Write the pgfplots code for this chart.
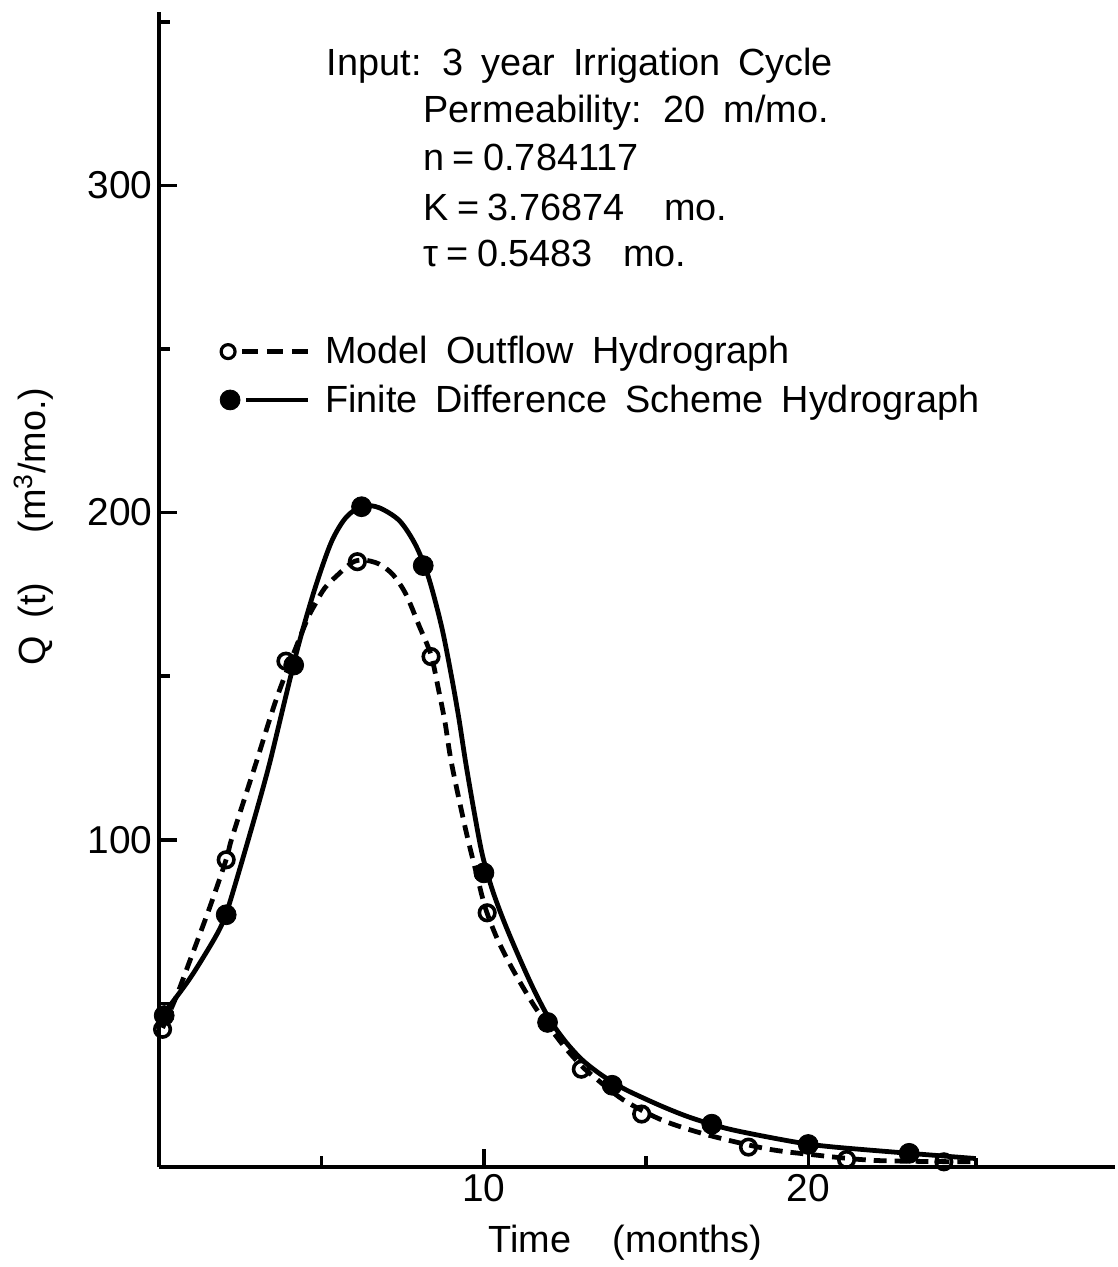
\documentclass[border=0pt]{standalone}
\usepackage{pgfplots}
\pgfplotsset{compat=1.18}
\usepackage{fontspec}
\setmainfont{Liberation Sans}[WordSpace=1.7]

% curve traces
\pgfplotstableread{
x y
0.10 46.5
0.40 50.3
1.00 58.5
1.75 70.7
2.06 77.5
2.46 90.5
3.00 109.0
3.40 123.5
3.90 144.0
4.30 160.0
4.80 177.0
5.30 191.0
5.75 198.5
6.25 202.0
6.77 201.5
7.40 197.5
7.90 190.0
8.30 180.0
8.70 165.0
9.00 150.0
9.23 137.0
9.44 123.5
9.70 108.5
9.95 95.5
10.25 85.0
10.60 75.5
11.00 66.0
11.50 55.0
12.00 45.5
12.50 38.5
13.00 33.0
13.50 29.0
14.00 25.7
14.50 23.0
15.50 18.5
16.40 15.0
17.60 11.5
19.50 7.8
20.60 6.3
22.60 4.6
25.15 2.6
}\fdcurve

\pgfplotstableread{
x y
0.10 42.5
0.52 52.0
0.92 62.5
1.54 79.0
2.06 94.0
2.25 101.0
2.98 123.5
3.64 144.0
4.50 166.0
4.80 172.0
5.10 177.0
5.50 181.0
5.95 184.8
6.30 185.5
6.77 184.3
7.20 181.0
7.60 175.0
8.00 165.5
8.37 156.5
8.60 146.0
8.80 136.0
9.00 123.5
9.44 103.0
9.80 88.5
10.05 79.0
10.40 70.0
10.80 62.0
11.20 55.0
11.60 48.5
12.00 43.0
12.50 36.5
13.00 31.0
13.40 27.5
14.30 20.5
15.50 14.3
16.90 9.8
18.70 5.6
20.10 3.8
22.10 2.0
25.15 1.6
}\modelcurve

\pgfplotstableread{
x y
0.10 42.1
2.06 93.9
3.90 154.6
6.10 185.0
8.37 156.0
10.10 77.7
13.00 29.9
14.86 16.2
18.15 6.1
21.17 2.3
24.17 1.6
}\modelpts

\pgfplotstableread{
x y
0.15 46.3
2.06 77.1
4.14 153.4
6.23 201.8
8.13 183.8
10.00 89.9
11.96 44.2
13.95 25.0
17.02 13.1
19.99 6.9
23.10 4.2
}\fdpts

\begin{document}
\begin{tikzpicture}
\begin{axis}[
  scale only axis, width=480pt, height=580pt,
  xmin=0, xmax=29.45, ymin=0, ymax=353,
  axis lines=left, axis line style={-, line width=2pt},
  tick align=inside,
  xtick={10,20}, minor xtick={5,15},
  ytick={100,200,300}, minor ytick={50,150,250,350},
  major tick length=9pt, minor tick length=5.5pt,
  every major tick/.append style={black, line width=1.8pt},
  every minor tick/.append style={black, line width=1.8pt},
  tick label style={font=\fontsize{19.5}{22}\selectfont},
  /pgf/number format/assume math mode=true,
  clip=false,
  xlabel={Time\hspace{1.1em}(months)},
  xlabel style={at={(axis cs:14.36,0)}, anchor=center, yshift=-38pt, font=\fontsize{19}{22}\selectfont},
  ylabel={Q (t)\hspace{1.3em}(m\textsuperscript{3}/mo.)},
  ylabel style={at={([xshift=-63pt]axis cs:0,195.7)}, anchor=center, font=\fontsize{19}{22}\selectfont},
  legend style={at={([xshift=-5pt,yshift=8.5pt]axis cs:2.15,249.4)}, anchor=north west,
    draw=none, fill=none, inner sep=0pt, row sep=7pt,
    font=\fontsize{19}{22}\selectfont, nodes={inner ysep=1pt}},
  legend cell align=left,
]
\addlegendimage{legend image code/.code={
  \draw[line width=2.2pt, dash pattern=on 8pt off 4.5pt] (7pt,0) -- (40pt,0);
  \draw[line width=1.6pt, fill=white] (0pt,0) circle (3.5pt);
  \path (46.5pt,0);}}
\addlegendentry{Model Outflow Hydrograph}
\addlegendimage{legend image code/.code={
  \draw[line width=2.2pt] (9pt,0) -- (40pt,0);
  \fill (1pt,0) circle (5pt);
  \path (46.5pt,0);}}
\addlegendentry{Finite Difference Scheme Hydrograph}

\addplot[forget plot, black, line width=2.4pt, smooth] table {\fdcurve};
\addplot[forget plot, black, line width=2.4pt, smooth, dash pattern=on 6.5pt off 4pt] table {\modelcurve};
\addplot[forget plot, black, line width=2pt] coordinates {(25.15,0.5) (25.15,2.8)};
\addplot[forget plot, only marks, mark=*, mark size=5pt, mark options={black, fill=black, line width=0.4pt}] table {\fdpts};
\addplot[forget plot, only marks, mark=o, mark size=3.9pt, mark options={black, fill=white, line width=1.8pt, solid}] table {\modelpts};

\node[anchor=mid west, inner sep=0pt, font=\fontsize{19}{22}\selectfont] at (axis cs:5.15,335.3) {Input: 3 year Irrigation Cycle};
\node[anchor=mid west, inner sep=0pt, font=\fontsize{19}{22}\selectfont] at (axis cs:8.13,320.7) {Permeability: 20 m/mo.};
\node[anchor=mid west, inner sep=0pt, font=\fontsize{19}{22}\selectfont] at (axis cs:8.13,306.3) {n\hspace{0.22em}=\hspace{0.22em}0.784117};
\node[anchor=mid west, inner sep=0pt, font=\fontsize{19}{22}\selectfont] at (axis cs:8.13,290.8) {K\hspace{0.22em}=\hspace{0.22em}3.76874\hspace{1.05em}mo.};
\node[anchor=mid west, inner sep=0pt, font=\fontsize{19}{22}\selectfont] at (axis cs:8.13,276.8) {τ\hspace{0.22em}=\hspace{0.22em}0.5483\hspace{0.8em}mo.};

\coordinate (SW) at (rel axis cs:0,0);
\coordinate (NE) at (rel axis cs:1,1);
\end{axis}
\path (SW) ++(-80pt,-47.5pt);
\path (NE) ++(1pt,6pt);
\end{tikzpicture}
\end{document}
